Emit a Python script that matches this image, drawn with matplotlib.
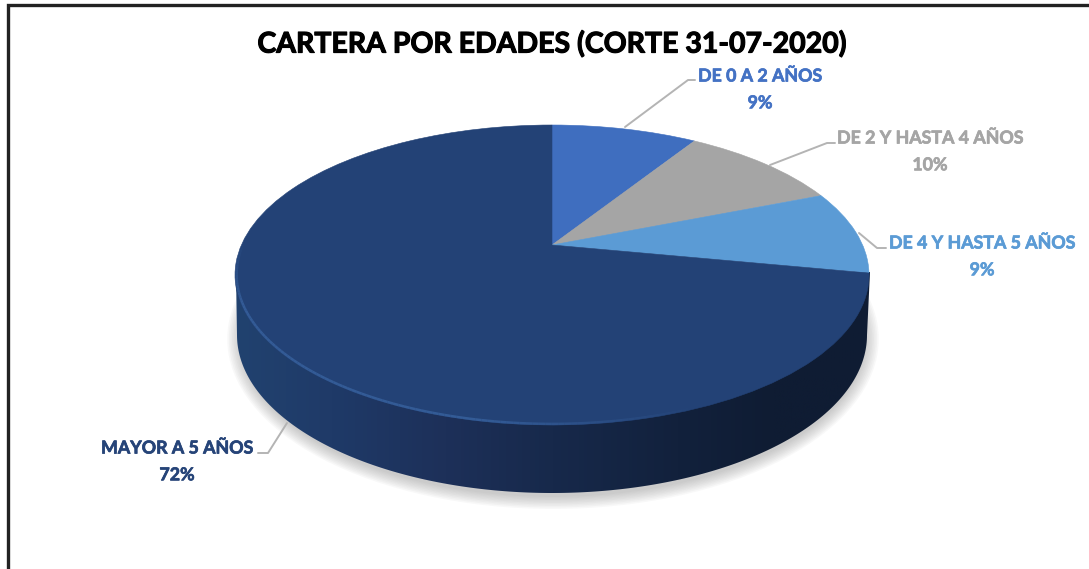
import numpy as np
import matplotlib
matplotlib.use('Agg')
import matplotlib.pyplot as plt
import matplotlib.patheffects as pe
from matplotlib.collections import LineCollection
from matplotlib.colors import LinearSegmentedColormap
from matplotlib.patches import Ellipse, Polygon
from matplotlib.transforms import Transform

categories = ['DE 0 A 2 AÑOS', 'DE 2 Y HASTA 4 AÑOS', 'DE 4 Y HASTA 5 AÑOS', 'MAYOR A 5 AÑOS']
values = [9, 10, 9, 72]
colors = ['#3F6EBF', '#A5A5A5', '#5B9BD5', '#234276']
label_colors = ['#4472C4', '#A5A5A5', '#5B9BD5', '#264478']
title = 'CARTERA POR EDADES (CORTE 31-07-2020)'

# where the labels sit and the path of each leader line, in pixels
label_pos = [(760, 89), (930, 151), (982, 256), (177, 461)]
leaders = [[(625, 127), (688, 80), (695, 80)],
           [(770, 165), (827, 143), (835, 143)],
           [(859, 233), (877, 248), (886, 248)],
           [(287, 423), (268, 453), (258, 453)]]

plt.rcParams['font.family'] = ['Lato', 'DejaVu Sans']


class Tilt(Transform):
    # tilts the flat unit pie: the near side gets bigger than the far side
    input_dims = 2
    output_dims = 2

    def transform_non_affine(self, pts):
        pts = np.asarray(pts, float)
        w = 1 + 0.2 * pts[:, 1]
        return np.column_stack((552 + 310.6 * pts[:, 0] / w, 245 - 144 * pts[:, 1] / w))


fig = plt.figure(figsize=(10.89, 5.69), dpi=100)
ax = fig.add_axes([0, 0, 1, 1])

wedges, _ = ax.pie(values, colors=colors, startangle=90, counterclock=False,
                   wedgeprops={'linewidth': 0.4})
tilt = Tilt() + ax.transData
for w, c in zip(wedges, colors):
    w.set_edgecolor(c)
    w.set_transform(tilt)
    w.set_zorder(5)

ax.set_aspect('auto')
ax.set_xlim(0, 1089)
ax.set_ylim(569, 0)
ax.set_axis_off()

# soft shadow under the disc
for i in range(9):
    ax.add_patch(Ellipse((553, 339), 2 * (313 + i * 1.6), 2 * (158 + i * 1.5),
                         fc='#808080', ec='none', alpha=0.05, zorder=1))

# side wall, shaded from left to right
t = np.linspace(0, np.pi, 200)
wall = [(236, 275)] + [(552 + 315 * np.cos(a), 335 + 158 * np.sin(a)) for a in t[::-1]] + [(870, 272)]
wall_patch = Polygon(wall, closed=True, fc='none', ec='none', zorder=2)
ax.add_patch(wall_patch)
shade = LinearSegmentedColormap.from_list('wall', [(0, '#21426F'), (0.15, '#1F3A68'), (0.33, '#1D3059'),
                                                   (0.5, '#17294B'), (0.7, '#12213C'), (0.85, '#0F1C33'),
                                                   (1, '#0F1C33')])
im = ax.imshow(np.linspace(0, 1, 400).reshape(1, -1), cmap=shade, extent=(236, 870, 500, 260),
               aspect='auto', zorder=3)
im.set_clip_path(wall_patch)
ax.set_xlim(0, 1089)
ax.set_ylim(569, 0)

# lighter rim along the near left edge of the top face
a = np.radians(np.linspace(178, 292, 120))
rim = Tilt().transform(np.column_stack((0.995 * np.cos(a), 0.995 * np.sin(a))))
segs = np.stack((rim[:-1], rim[1:]), axis=1)
fade = np.minimum(1, np.minimum(np.arange(119) / 25, (119 - np.arange(119)) / 35)) * 0.8
rim_colors = np.zeros((119, 4))
rim_colors[:, :3] = matplotlib.colors.to_rgb('#38629F')
rim_colors[:, 3] = fade
ax.add_collection(LineCollection(segs, colors=rim_colors, linewidths=1.8, zorder=6))

# leader lines and labels
for path, name, val, c, pos in zip(leaders, categories, values, label_colors, label_pos):
    ax.plot([p[0] for p in path], [p[1] for p in path], color='#B4B4B4', lw=1.4, zorder=4,
            solid_capstyle='round')
    ax.text(pos[0], pos[1], f'{name}\n{val}%', color=c, fontsize=12.8, fontweight='bold',
            ha='center', va='center', linespacing=1.7, zorder=7,
            path_effects=[pe.withStroke(linewidth=0.5, foreground=c)])

ax.text(552, 44, title, color='black', fontsize=20.5, fontweight='bold', ha='center', va='center', zorder=7,
        path_effects=[pe.withStroke(linewidth=0.8, foreground='black')])

# chart frame, only top and left are inside the crop
ax.plot([1089, 8, 8], [5, 5, 569], color='#222222', lw=2.4, solid_joinstyle='miter', zorder=8)

fig.savefig('out.png', dpi=100, facecolor='white')
